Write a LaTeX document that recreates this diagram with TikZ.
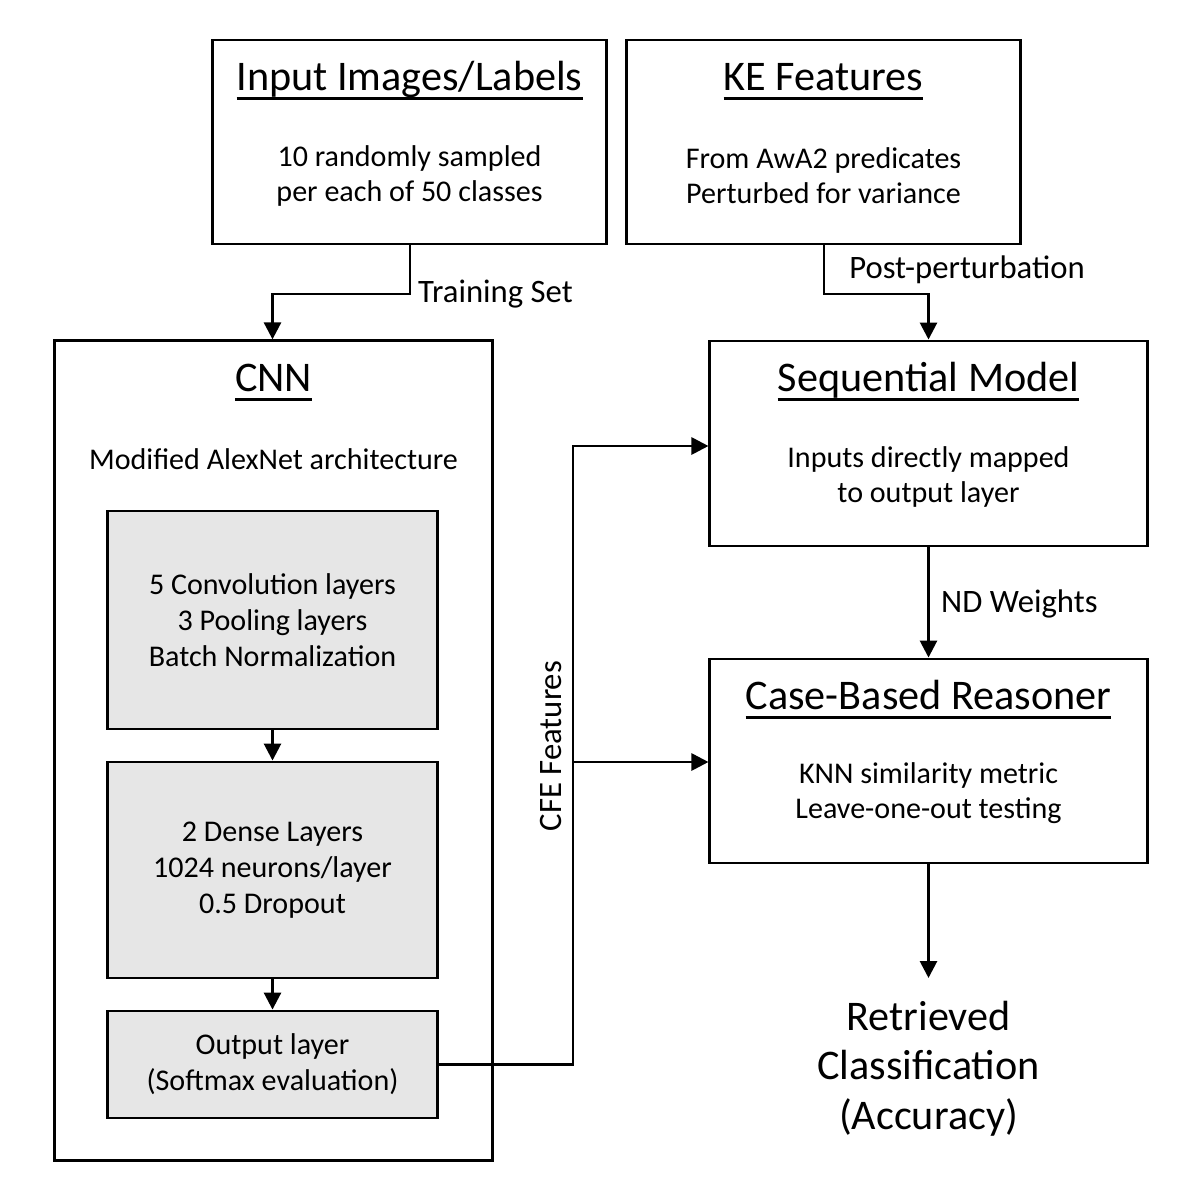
\documentclass[tikz,border=0pt]{standalone}
\usepackage{fontspec}
\setmainfont{Carlito}
\usepackage{tikz}
\usetikzlibrary{calc,shapes,positioning}
\usetikzlibrary{arrows.meta}
\tikzset{>={Triangle[width=1.7mm,length=1.7mm]}}
\definecolor{boxgray}{HTML}{E6E6E6}
\newcommand{\ultitle}[1]{\setbox0=\hbox{#1}\vtop{\hbox{\raisebox{0pt}[\ht0][0pt]{\box0}}\kern1.9pt\hrule height 1.05pt}}

\begin{document}
\begin{tikzpicture}[x=0.01cm, y=-0.01cm]
          \tikzstyle{wbox} = [thick, draw, rectangle, inner sep = 0pt, minimum width = 4.37cm]
          \tikzstyle{gbox} = [thick, draw, fill=boxgray, rectangle, inner sep = 0pt, minimum width = 3.29cm, align=center, font=\fontsize{8.55pt}{10.3pt}\selectfont]
          \tikzstyle{title} = [anchor=base, inner sep = 0pt, font=\fontsize{12pt}{14pt}\selectfont]
          \tikzstyle{body} = [align=center, inner sep = 0pt, font=\fontsize{8.55pt}{10pt}\selectfont]
          \tikzstyle{flowlabel} = [inner sep = 1pt, font=\fontsize{9.3pt}{11pt}\selectfont]

          \useasboundingbox (0,0) rectangle (1200,1200);

          % boxes
          \node[wbox, minimum width=3.93cm, minimum height=2.04cm] (inp) at (409.5,142) {};
          \node[wbox, minimum width=3.93cm, minimum height=2.04cm] (ke) at (823.5,142) {};
          \node[wbox, minimum height=8.19cm] (cnn) at (273.5,750.5) {};
          \node[wbox, minimum height=2.05cm] (seq) at (928.5,443.5) {};
          \node[wbox, minimum height=2.04cm] (cbr) at (928.5,761) {};

          \node[gbox, minimum height=2.18cm] (conv) at (272.5,620) {5 Convolution layers\\3 Pooling layers\\Batch Normalization};
          \node[gbox, minimum height=2.16cm] (dense) at (272.5,870) {2 Dense Layers\\1024 neurons/layer\\0.5 Dropout};
          \node[gbox, minimum height=1.07cm] (outl) at (272.5,1064.5) {Output layer\\(Softmax evaluation)};

          % texts
          \node[title] (inpT) at (409.5,90) {\ultitle{Input Images/Labels}};
          \node[title] (keT) at (823.5,90) {\ultitle{KE Features}};
          \node[title] (cnnT) at (273.5,391) {\ultitle{CNN}};
          \node[title] (seqT) at (928.5,391) {\ultitle{Sequential Model}};
          \node[title] (cbrT) at (928.5,709) {\ultitle{Case-Based Reasoner}};

          \node[body] (inpB) at (409.5,176) {10 randomly sampled\\per each of 50 classes};
          \node[body] (keB) at (823.5,176) {From AwA2 predicates\\Perturbed for variance};
          \node[body] (cnnB) at (273.5,459) {Modified AlexNet architecture};
          \node[body] (seqB) at (928.5,477) {Inputs directly mapped\\to output layer};
          \node[body] (cbrB) at (928.5,793) {KNN similarity metric\\Leave-one-out testing};

          \node[align=center, anchor=north, inner sep=2.2mm, font=\fontsize{12pt}{14.2pt}\selectfont] (res) at (928.5,978) {Retrieved\\Classification\\(Accuracy)};

          % connectors
          \coordinate (trn) at (410,294);
          \coordinate (pst) at (824,294);
          \coordinate (bus) at (573,762);

          \draw[thick, ->] (inp.south -| trn) -- (trn) -| (cnn.north -| conv);
          \draw[thick, ->] (ke.south -| pst) -- (pst) -| (seq.north -| cbr);
          \draw[thick, ->] (seq.south) -- (cbr.north);
          \draw[thick, ->] (cbr.south) -- (res.north);
          \draw[thick, ->] (conv.south) -- (dense.north);
          \draw[thick, ->] (dense.south) -- (outl.north);
          \draw[thick, ->] (outl.east) -| (bus) |- ($(seq.west)+(0,2.5)$);
          \draw[thick, ->] (bus) -- (cbr.west |- bus);

          \node[flowlabel, anchor=west] (trnL) at (414,294) {Training Set};
          \node[flowlabel] (pstL) at (967,270) {Post-perturbation};
          \node[flowlabel, anchor=west] (ndL) at (937,604) {ND Weights};
          \node[flowlabel, rotate=90] (cfeL) at (551,746) {CFE Features};
        \end{tikzpicture}
\end{document}
